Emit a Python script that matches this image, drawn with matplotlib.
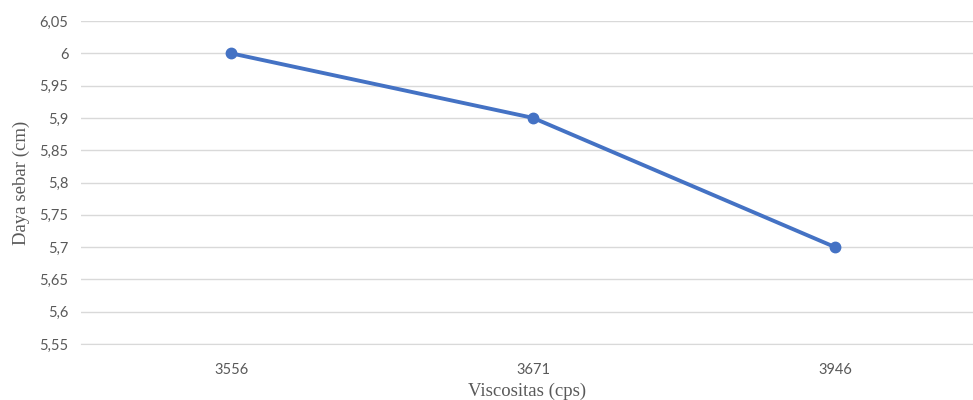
import matplotlib.pyplot as plt

viskositas = ["3556", "3671", "3946"]
daya_sebar = [6.0, 5.9, 5.7]
y_ticks = [5.55, 5.6, 5.65, 5.7, 5.75, 5.8, 5.85, 5.9, 5.95, 6.0, 6.05]

fig = plt.figure(figsize=(9.73, 4), dpi=100)
ax = fig.add_axes([81 / 973, 1 - 344 / 400, 1 - 81 / 973, (344 - 21) / 400])

x = list(range(len(viskositas)))
ax.plot(x, daya_sebar, color="#4472C4", linewidth=2.8, marker="o", markersize=7.5, zorder=3)

ax.set_xlim(-0.497, 2.457)
ax.set_ylim(5.55, 6.05)
ax.set_xticks(x)
ax.set_xticklabels(viskositas)
ax.set_yticks(y_ticks)
ax.set_yticklabels([("%g" % v).replace(".", ",") for v in y_ticks])

ax.grid(axis="y", color="#D9D9D9", linewidth=1)
ax.set_axisbelow(True)
for s in ["top", "right", "left"]:
    ax.spines[s].set_visible(False)
ax.spines["bottom"].set_color("#D9D9D9")
ax.tick_params(length=0, labelsize=10.5, labelcolor="#595959", pad=9)
for lbl in ax.get_xticklabels() + ax.get_yticklabels():
    lbl.set_family("Lato")
ax.tick_params(axis="x", pad=14)

ax.set_xlabel("Viscositas (cps)", family="Liberation Serif", fontsize=13.5, color="#595959", labelpad=4)
ax.set_ylabel("Daya sebar (cm)", family="Liberation Serif", fontsize=13.5, color="#595959", labelpad=7)

fig.savefig("out.png", dpi=100)
